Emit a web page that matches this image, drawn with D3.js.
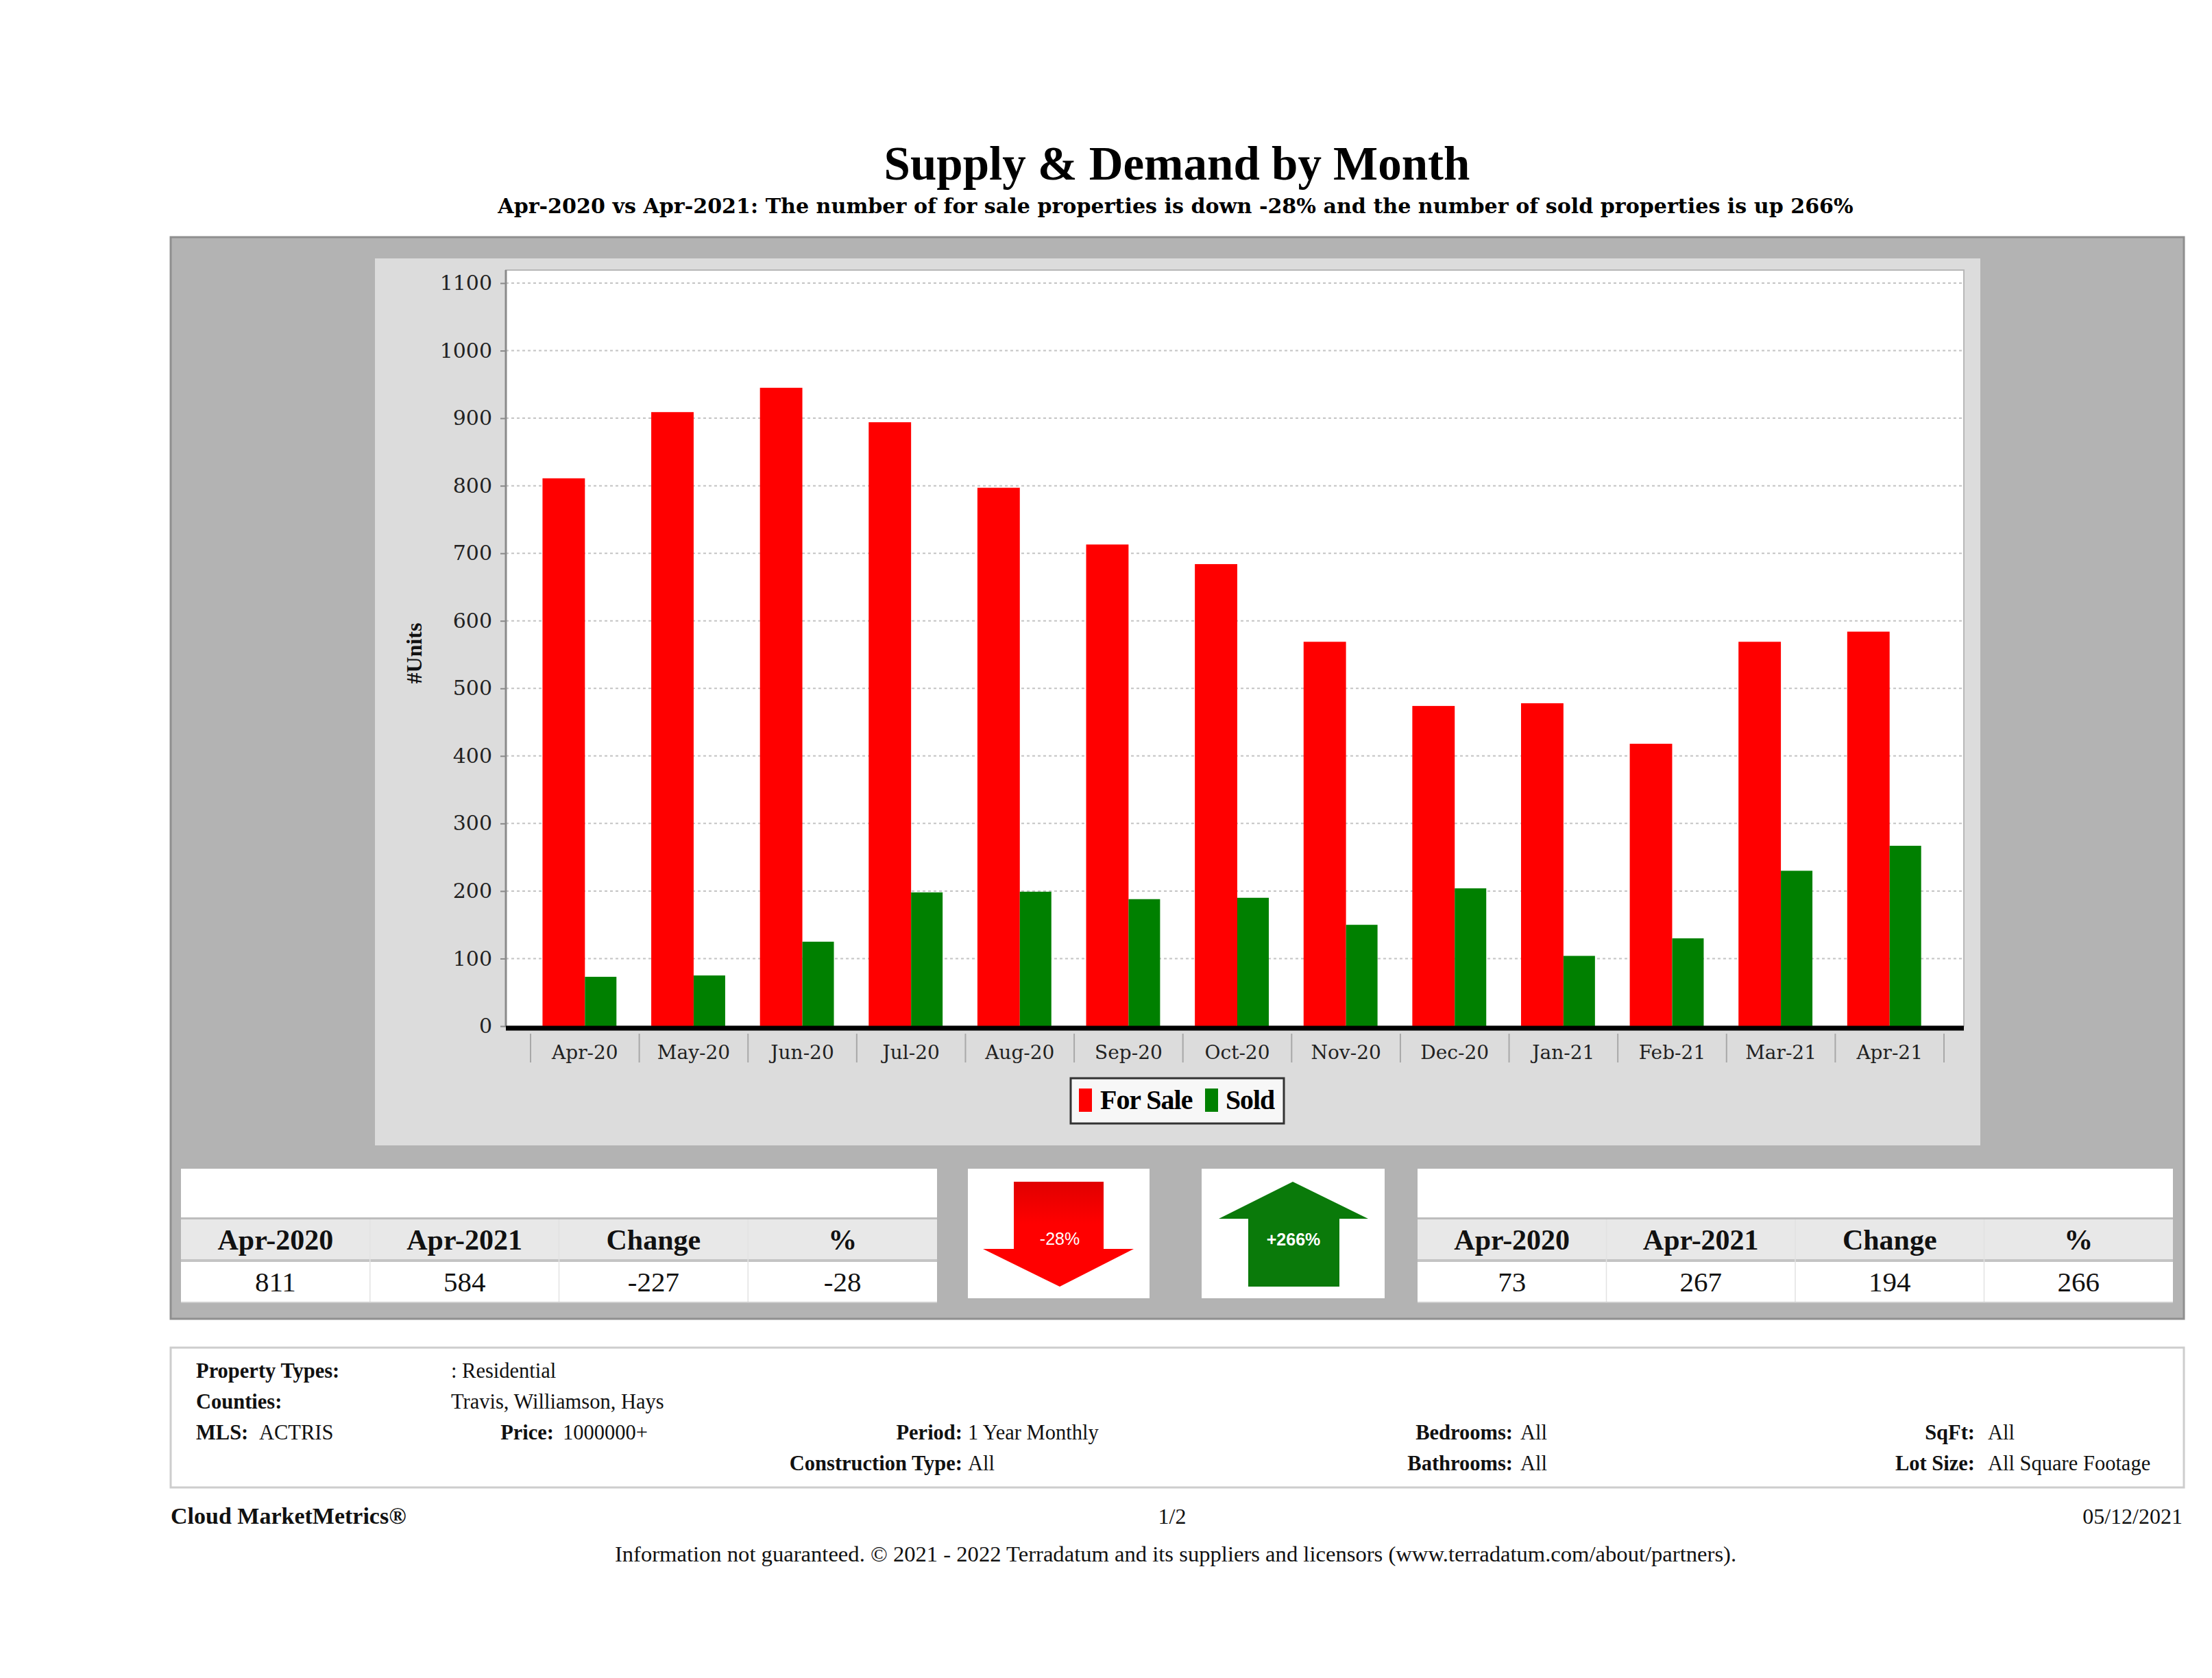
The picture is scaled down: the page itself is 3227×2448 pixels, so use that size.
<!DOCTYPE html>
<html><head><meta charset="utf-8">
<script src="https://cdn.jsdelivr.net/npm/d3@7"></script>
<style>body{margin:0;background:#fff} svg{display:block}</style>
</head><body>
<script>
// ---------- DATA ----------
const months = ["Apr-20","May-20","Jun-20","Jul-20","Aug-20","Sep-20","Oct-20","Nov-20","Dec-20","Jan-21","Feb-21","Mar-21","Apr-21"];
const forSale = [811, 909, 945, 894, 797, 713, 684, 569, 474, 478, 418, 569, 584];
const sold = [73, 75, 125, 198, 199, 188, 190, 150, 204, 104, 130, 230, 267];
const yTicks = [0,100,200,300,400,500,600,700,800,900,1000,1100];
const seriesNames = ["For Sale","Sold"];
const seriesColors = ["#ff0000","#008000"];
const summaryHeaders = ["Apr-2020","Apr-2021","Change","%"];
const forSaleSummary = [811, 584, -227, -28];
const soldSummary = [73, 267, 194, 266];
const arrowLabels = ["-28%", "+266%"];
const titleText = "Supply & Demand by Month";
const subtitleText = "Apr-2020 vs Apr-2021: The number of for sale properties is down -28% and the number of sold properties is up 266%";
const yAxisLabel = "#Units";
const footerLeft = "Cloud MarketMetrics®";
const footerMid = "1/2";
const footerRight = "05/12/2021";
const disclaimer = "Information not guaranteed. © 2021 - 2022 Terradatum and its suppliers and licensors (www.terradatum.com/about/partners).";

// ---------- SETUP ----------
const W = 3227, H = 2448;
const SERIF = "'Liberation Serif', 'Times New Roman', serif";
const DSERIF = "'DejaVu Serif', serif";
const svg = d3.select("body").append("svg").attr("width", W).attr("height", H);
svg.append("rect").attr("width", W).attr("height", H).attr("fill", "#fff");

function fit(sel, target) {
  const n = sel.node();
  const len = n.getComputedTextLength();
  const fs = parseFloat(sel.attr("font-size"));
  if (len > 0) sel.attr("font-size", (fs * target / len).toFixed(2));
  return sel;
}

// Title
fit(svg.append("text").attr("x", 1717).attr("y", 262).attr("text-anchor", "middle")
  .attr("font-family", SERIF).attr("font-weight", "bold").attr("font-size", 68)
  .attr("fill", "#000").text(titleText), 855);
fit(svg.append("text").attr("x", 1715).attr("y", 311).attr("text-anchor", "middle")
  .attr("font-family", DSERIF).attr("font-weight", "bold").attr("font-size", 31)
  .attr("fill", "#000").text(subtitleText), 1978);

// Outer gray panel
svg.append("rect").attr("x", 249).attr("y", 346).attr("width", 2937).attr("height", 1578)
  .attr("fill", "#b3b3b3").attr("stroke", "#8f8f8f").attr("stroke-width", 3);
// Chart background
svg.append("rect").attr("x", 547).attr("y", 377).attr("width", 2342).attr("height", 1294)
  .attr("fill", "#dcdcdc");

// Plot area
const plot = {left: 738, right: 2865, top: 394, bottom: 1497};
svg.append("rect").attr("x", plot.left).attr("y", plot.top)
  .attr("width", plot.right - plot.left).attr("height", plot.bottom - plot.top)
  .attr("fill", "#fff").attr("stroke", "#b8b8b8").attr("stroke-width", 2);

const y = d3.scaleLinear().domain([0, 1100]).range([1497, 413]);
const x = d3.scaleBand().domain(months).range([774, 2836]).paddingInner(0).paddingOuter(0);
const bw = x.bandwidth();

// Gridlines
svg.append("g").selectAll("line").data(yTicks.filter(d => d > 0)).join("line")
  .attr("x1", plot.left).attr("x2", plot.right)
  .attr("y1", d => y(d)).attr("y2", d => y(d))
  .attr("stroke", "#c4c4c4").attr("stroke-width", 2).attr("stroke-dasharray", "4,4");

// Bars
const bars = svg.append("g");
bars.selectAll("rect.fs").data(months).join("rect").attr("class", "fs")
  .attr("x", (d) => x(d) + bw / 2 - bw * 0.39)
  .attr("width", bw * 0.39)
  .attr("y", (d, i) => y(forSale[i]))
  .attr("height", (d, i) => y(0) - y(forSale[i]))
  .attr("fill", seriesColors[0]);
bars.selectAll("rect.sd").data(months).join("rect").attr("class", "sd")
  .attr("x", (d) => x(d) + bw / 2)
  .attr("width", bw * 0.29)
  .attr("y", (d, i) => y(sold[i]))
  .attr("height", (d, i) => y(0) - y(sold[i]))
  .attr("fill", seriesColors[1]);

// Y axis
const yAxis = svg.append("g").attr("transform", `translate(${plot.left},0)`)
  .call(d3.axisLeft(y).tickValues(yTicks).tickSize(8).tickPadding(12).tickFormat(d3.format("d")));
yAxis.select(".domain").attr("stroke", "#8a8a8a").attr("stroke-width", 3)
  .attr("d", `M0,${plot.top}V${plot.bottom}`);
yAxis.selectAll(".tick line").attr("stroke", "#8a8a8a").attr("stroke-width", 2);
yAxis.selectAll(".tick text").attr("font-family", DSERIF).attr("font-size", 30).attr("fill", "#222");

// X axis: thick black baseline, separators, labels
svg.append("line").attr("x1", plot.left).attr("x2", plot.right)
  .attr("y1", y(0) + 3).attr("y2", y(0) + 3).attr("stroke", "#000").attr("stroke-width", 7);
const xAxis = svg.append("g").attr("transform", `translate(0,${y(0) + 6})`)
  .call(d3.axisBottom(x).tickSize(0).tickPadding(22));
xAxis.select(".domain").remove();
xAxis.selectAll(".tick text").attr("font-family", DSERIF).attr("font-size", 28).attr("fill", "#222")
  .attr("dy", "0.71em");
const seps = months.map(m => x(m)).concat([x(months[months.length - 1]) + bw]);
svg.append("g").selectAll("line").data(seps).join("line")
  .attr("x1", d => d).attr("x2", d => d).attr("y1", 1508).attr("y2", 1550)
  .attr("stroke", "#a8a8a8").attr("stroke-width", 2);

// Y axis label
svg.append("text").attr("transform", "translate(615,953) rotate(-90)")
  .attr("text-anchor", "middle").attr("font-family", SERIF).attr("font-weight", "bold")
  .attr("font-size", 32).attr("fill", "#111").text(yAxisLabel);

// Legend
const lg = svg.append("g");
lg.append("rect").attr("x", 1562).attr("y", 1573).attr("width", 311).attr("height", 66)
  .attr("fill", "#f7f7f7").attr("stroke", "#333").attr("stroke-width", 3);
const legendX = [1574, 1758], legendTextX = [1605, 1788], legendW = [134, 71];
seriesNames.forEach((n, i) => {
  lg.append("rect").attr("x", legendX[i]).attr("y", 1588).attr("width", 19).attr("height", 34)
    .attr("fill", seriesColors[i]);
  fit(lg.append("text").attr("x", legendTextX[i]).attr("y", 1618).attr("font-family", SERIF)
    .attr("font-weight", "bold").attr("font-size", 38).attr("letter-spacing", -1)
    .attr("fill", "#000").text(n), legendW[i]);
});

// Summary tables
function table(x0, x1, vals) {
  const g = svg.append("g");
  const top = 1705, lineA = 1776, hdrTop = 1779, hdrBot = 1837, valTop = 1841, valBot = 1899;
  g.append("rect").attr("x", x0).attr("y", top).attr("width", x1 - x0).attr("height", valBot - top + 2).attr("fill", "#fff");
  g.append("rect").attr("x", x0).attr("y", lineA).attr("width", x1 - x0).attr("height", hdrTop - lineA).attr("fill", "#bdbdbd");
  g.append("rect").attr("x", x0).attr("y", hdrTop).attr("width", x1 - x0).attr("height", hdrBot - hdrTop).attr("fill", "#e8e8e8");
  g.append("rect").attr("x", x0).attr("y", hdrBot).attr("width", x1 - x0).attr("height", valTop - hdrBot).attr("fill", "#c4c4c4");
  g.append("rect").attr("x", x0).attr("y", valBot).attr("width", x1 - x0).attr("height", 2).attr("fill", "#cfcfcf");
  const cx = d3.scaleBand().domain(d3.range(4)).range([x0, x1]);
  d3.range(1, 4).forEach(i => {
    g.append("line").attr("x1", cx(i)).attr("x2", cx(i)).attr("y1", hdrTop).attr("y2", valBot)
      .attr("stroke", "#e2e2e2").attr("stroke-width", 1.5);
  });
  summaryHeaders.forEach((h, i) => {
    g.append("text").attr("x", cx(i) + cx.bandwidth() / 2).attr("y", 1823).attr("text-anchor", "middle")
      .attr("font-family", SERIF).attr("font-weight", "bold").attr("font-size", 42).attr("fill", "#111").text(h);
    g.append("text").attr("x", cx(i) + cx.bandwidth() / 2).attr("y", 1884).attr("text-anchor", "middle")
      .attr("font-family", SERIF).attr("font-size", 41).attr("fill", "#111").text(vals[i]);
  });
}
table(264, 1367, forSaleSummary);
table(2068, 3170, soldSummary);

// Arrow boxes
svg.append("rect").attr("x", 1412).attr("y", 1705).attr("width", 265).attr("height", 189).attr("fill", "#fff");
svg.append("rect").attr("x", 1753).attr("y", 1705).attr("width", 267).attr("height", 189).attr("fill", "#fff");
const redGrad = svg.append("defs").append("linearGradient").attr("id", "rg").attr("x1", 0).attr("x2", 0).attr("y1", 0).attr("y2", 1);
redGrad.append("stop").attr("offset", "0%").attr("stop-color", "#e00000");
redGrad.append("stop").attr("offset", "40%").attr("stop-color", "#ff0000");
svg.append("path").attr("d", "M1479,1724 H1610 V1822 H1654 L1546,1877 L1434,1822 H1479 Z").attr("fill", "url(#rg)");
svg.append("path").attr("d", "M1886,1724 L1996,1778 H1954 V1877 H1821 V1778 H1778 Z").attr("fill", "#0a7a0a");
svg.append("text").attr("x", 1546).attr("y", 1816).attr("text-anchor", "middle")
  .attr("font-family", "'Liberation Sans', Arial, sans-serif").attr("font-size", 25).attr("fill", "#fff").text(arrowLabels[0]);
svg.append("text").attr("x", 1887).attr("y", 1817).attr("text-anchor", "middle")
  .attr("font-family", "'Liberation Sans', Arial, sans-serif").attr("font-size", 25).attr("font-weight", "bold").attr("fill", "#fff").text(arrowLabels[1]);

// Info box
svg.append("rect").attr("x", 249).attr("y", 1966).attr("width", 2937).attr("height", 204)
  .attr("fill", "#fff").attr("stroke", "#cdcdcd").attr("stroke-width", 3);
const infoItems = [
  {t: "Property Types:", b: true, x: 286, row: 0, a: "start"},
  {t: ": Residential", x: 658, row: 0, a: "start"},
  {t: "Counties:", b: true, x: 286, row: 1, a: "start"},
  {t: "Travis, Williamson, Hays", x: 658, row: 1, a: "start"},
  {t: "MLS:", b: true, x: 286, row: 2, a: "start"},
  {t: "ACTRIS", x: 378, row: 2, a: "start"},
  {t: "Price:", b: true, x: 808, row: 2, a: "end"},
  {t: "1000000+", x: 821, row: 2, a: "start"},
  {t: "Period:", b: true, x: 1404, row: 2, a: "end"},
  {t: "1 Year Monthly", x: 1412, row: 2, a: "start"},
  {t: "Bedrooms:", b: true, x: 2207, row: 2, a: "end"},
  {t: "All", x: 2218, row: 2, a: "start"},
  {t: "SqFt:", b: true, x: 2881, row: 2, a: "end"},
  {t: "All", x: 2900, row: 2, a: "start"},
  {t: "Construction Type:", b: true, x: 1404, row: 3, a: "end"},
  {t: "All", x: 1412, row: 3, a: "start"},
  {t: "Bathrooms:", b: true, x: 2207, row: 3, a: "end"},
  {t: "All", x: 2218, row: 3, a: "start"},
  {t: "Lot Size:", b: true, x: 2881, row: 3, a: "end"},
  {t: "All Square Footage", x: 2900, row: 3, a: "start"}
];
const rowY = [2010, 2055, 2100, 2145];
svg.append("g").selectAll("text").data(infoItems).join("text")
  .attr("x", d => d.x).attr("y", d => rowY[d.row]).attr("text-anchor", d => d.a)
  .attr("font-family", SERIF).attr("font-weight", d => d.b ? "bold" : "normal")
  .attr("font-size", 30.5).attr("fill", "#111").text(d => d.t);

// Footer
svg.append("text").attr("x", 249).attr("y", 2223).attr("font-family", SERIF).attr("font-weight", "bold")
  .attr("font-size", 34).attr("fill", "#111").text(footerLeft);
svg.append("text").attr("x", 1710).attr("y", 2223).attr("text-anchor", "middle").attr("font-family", SERIF)
  .attr("font-size", 32).attr("fill", "#111").text(footerMid);
svg.append("text").attr("x", 3184).attr("y", 2223).attr("text-anchor", "end").attr("font-family", SERIF)
  .attr("font-size", 32).attr("fill", "#111").text(footerRight);
fit(svg.append("text").attr("x", 1715).attr("y", 2278).attr("text-anchor", "middle").attr("font-family", SERIF)
  .attr("font-size", 30).attr("fill", "#111").text(disclaimer), 1636);
</script>
</body></html>
